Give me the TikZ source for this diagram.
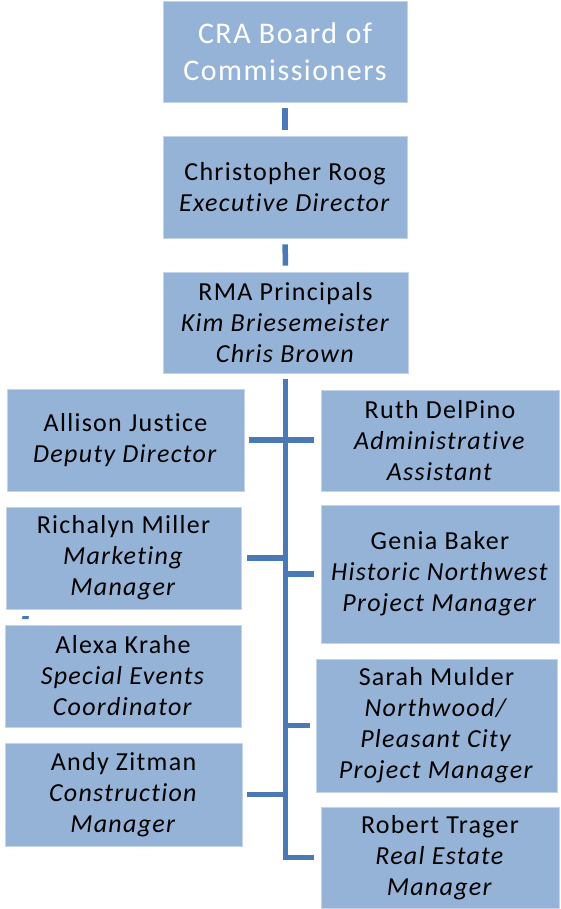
\documentclass[tikz,border=0pt]{standalone}
\usepackage{fontspec}
\setmainfont{Carlito}[LetterSpace=5, Ligatures=NoCommon]
\begin{document}
\begin{tikzpicture}[x=1pt,y=-1pt]
\definecolor{boxfill}{HTML}{95B3D7}
\definecolor{boxedge}{HTML}{C3D3E8}
\definecolor{connc}{HTML}{4A7AB5}
\tikzset{
  orgbox/.style={draw=boxedge, fill=boxfill, line width=0.8pt, inner sep=0pt, align=center,
    font=\fontsize{26}{31}\selectfont, text=black},
  topbox/.style={orgbox, font=\fontsize{30}{37}\selectfont, text=white},
  conn/.style={draw=connc, line width=5.5pt, line cap=butt, line join=miter}
}
\useasboundingbox (0,0) rectangle (561,909);

\node[topbox, minimum width=244pt, minimum height=101pt] (cra) at (285,51.5) {CRA Board of\\Commissioners};
\node[orgbox, minimum width=244pt, minimum height=102pt] (exec) at (285,187) {Christopher Roog\\\textit{Executive Director}};
\node[orgbox, minimum width=245pt, minimum height=101pt] (rma) at (285.5,322.5) {RMA Principals\\\textit{Kim Briesemeister}\\\textit{Chris Brown}};

\node[orgbox, minimum width=237pt, minimum height=102pt] (allison) at (125.5,440) {Allison Justice\\\textit{Deputy Director}};
\node[orgbox, minimum width=235pt, minimum height=102pt] (richalyn) at (123.5,558) {Richalyn Miller\\\textit{Marketing}\\\textit{Manager}};
\node[orgbox, minimum width=236pt, minimum height=102pt] (alexa) at (123,676) {Alexa Krahe\\\textit{Special Events}\\\textit{Coordinator}};
\node[orgbox, minimum width=237pt, minimum height=103pt] (andy) at (123.5,794.5) {Andy Zitman\\\textit{Construction}\\\textit{Manager}};

\node[orgbox, minimum width=238pt, minimum height=101pt] (ruth) at (440,440.5) {Ruth DelPino\\\textit{Administrative}\\\textit{Assistant}};
\node[orgbox, minimum width=238pt, minimum height=138pt] (genia) at (440,574) {Genia Baker\\\textit{Historic Northwest}\\\textit{Project Manager}};
\node[orgbox, minimum width=241pt, minimum height=133pt] (sarah) at (436.5,725.5) {Sarah Mulder\\\textit{Northwood/}\\\textit{Pleasant City}\\\textit{Project Manager}};
\node[orgbox, minimum width=238pt, minimum height=101pt] (robert) at (440,857.5) {Robert Trager\\\textit{Real Estate}\\\textit{Manager}};

% vertical links at top
\draw[conn, shorten <=6pt, shorten >=6pt] (cra) -- (exec);
\draw[conn, shorten <=6pt, shorten >=6pt] (exec) -- (rma);

% trunk
\coordinate (tb) at (rma.south |- robert.west);
\draw[conn, shorten <=6pt, shorten >=7pt] (rma.south) -- (tb) -- (robert.west);

% branches
\draw[conn, shorten <=5pt, shorten >=7pt] (allison.east) -- (allison.east -| ruth.west);
\draw[conn, shorten <=6pt] (richalyn.east) -- (richalyn.east -| tb);
\draw[conn, shorten >=7pt] (genia.west -| tb) -- (genia.west);
\draw[conn, shorten >=6pt] (sarah.west -| tb) -- (sarah.west);
\draw[conn, shorten <=5pt] (andy.east) -- (andy.east -| tb);

% small stray mark
\fill[connc] (22.5,616) -- (29,616) -- (28.5,619) -- (22,619) -- cycle;
\end{tikzpicture}
\end{document}
